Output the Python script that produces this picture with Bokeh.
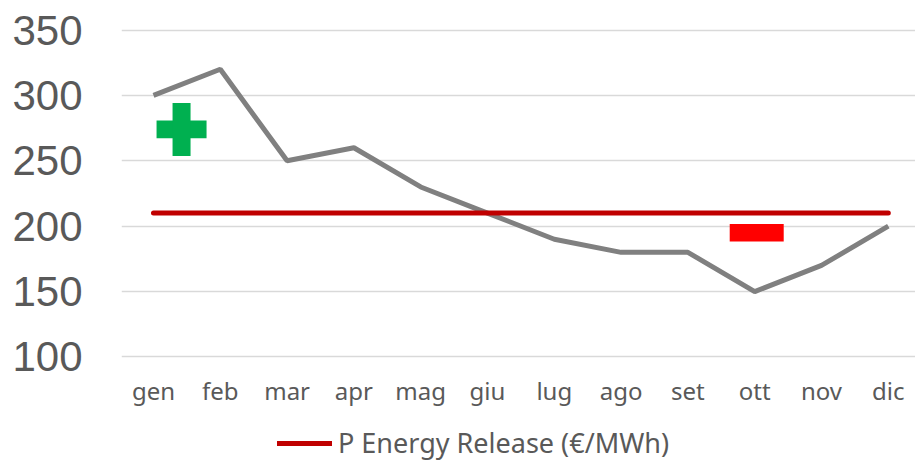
from bokeh.plotting import figure
from bokeh.models import Range1d, FixedTicker, Legend, LegendItem, ColumnDataSource
from bokeh.layouts import column
from bokeh.embed import file_html
from bokeh.resources import INLINE

months = ["gen", "feb", "mar", "apr", "mag", "giu", "lug", "ago", "set", "ott", "nov", "dic"]
price = [300, 320, 250, 260, 230, 210, 190, 180, 180, 150, 170, 200]
release = [210] * 12
y_ticks = [100, 150, 200, 250, 300, 350]
plus_x = [0.42]
plus_y = [274]
minus_x = [9.03]
minus_y = [195]
legend_label = "P Energy Release (€/MWh)"

x_idx = list(range(len(months)))

p = figure(width=915, height=420, output_backend="svg", toolbar_location=None,
           x_range=Range1d(-0.479, 11.407), y_range=Range1d(95, 355),
           min_border_left=121, min_border_right=0, min_border_top=23, min_border_bottom=57)
p.outline_line_color = None
p.background_fill_color = "white"
p.border_fill_color = "white"

p.xgrid.grid_line_color = None
p.ygrid.grid_line_color = "#D9D9D9"
p.ygrid.grid_line_width = 1.3

p.yaxis.ticker = FixedTicker(ticks=y_ticks)
p.xaxis.ticker = FixedTicker(ticks=x_idx)
p.xaxis.major_label_overrides = {i: m for i, m in enumerate(months)}

for ax in (p.xaxis[0], p.yaxis[0]):
    ax.axis_line_color = None
    ax.major_tick_line_color = None
    ax.minor_tick_line_color = None
    ax.major_tick_in = 0
    ax.major_tick_out = 0
    ax.major_label_text_color = "#595959"

p.yaxis.major_label_text_font = "Liberation Sans"
p.yaxis.major_label_text_font_size = "42px"
p.yaxis.major_label_standoff = 39
p.xaxis.major_label_text_font = "Noto Sans"
p.xaxis.major_label_text_font_size = "24px"
p.xaxis.major_label_standoff = 10

src = ColumnDataSource(dict(x=x_idx, price=price, release=release))
p.line("x", "price", source=src, line_color="#808080", line_width=5)
p.line("x", "release", source=src, line_color="#C00000", line_width=5, line_cap="round")

gcol = "#00B050"
p.rect(plus_x, plus_y, width=50, height=17.6, width_units="screen", height_units="screen",
       fill_color=gcol, line_color=None)
p.rect(plus_x, plus_y, width=18, height=53, width_units="screen", height_units="screen",
       fill_color=gcol, line_color=None)
p.rect(minus_x, minus_y, width=54, height=17.6, width_units="screen", height_units="screen",
       fill_color="#FF0000", line_color=None)

# legend strip below the chart
p2 = figure(width=915, height=41, output_backend="svg", toolbar_location=None,
            x_range=Range1d(0, 1), y_range=Range1d(0, 1),
            x_axis_type=None, y_axis_type=None,
            min_border_left=0, min_border_right=0, min_border_top=0, min_border_bottom=0)
p2.outline_line_color = None
p2.grid.visible = False
p2.background_fill_color = "white"
p2.border_fill_color = "white"
leg_src = ColumnDataSource(dict(x=[float("nan")], y=[float("nan")]))
red_leg = p2.line("x", "y", source=leg_src, line_color="#C00000", line_width=5, line_cap="round")

legend = Legend(items=[LegendItem(label=legend_label, renderers=[red_leg])],
                location=(156, 0), padding=0, margin=0, border_line_color=None,
                background_fill_alpha=0, glyph_width=55, glyph_height=20, label_standoff=6,
                label_text_font="Noto Sans", label_text_font_size="27px",
                label_text_color="#595959")
p2.add_layout(legend, "center")

layout = column(p, p2, spacing=0)
open("out.html", "w").write(file_html(layout, INLINE))
